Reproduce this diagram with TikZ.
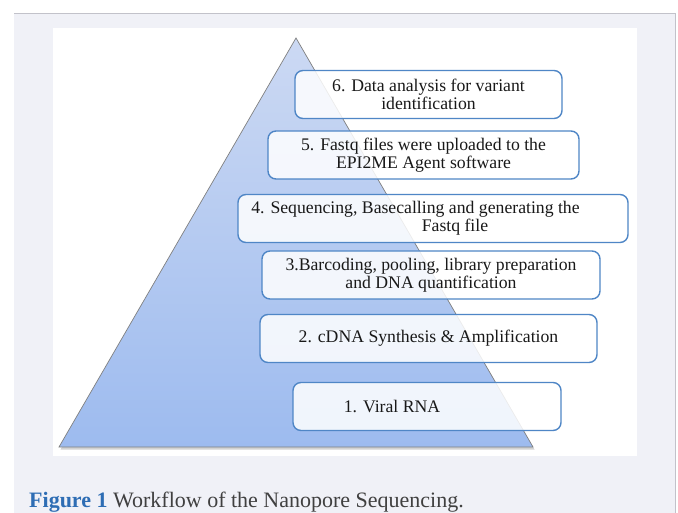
\documentclass[tikz,border=0pt]{standalone}
\usepackage{fontspec}
\setmainfont{Liberation Serif}
\usepackage{tikz}
\usetikzlibrary{shadows}

\definecolor{pagegrey}{HTML}{F0F1F7}
\definecolor{rulegrey}{HTML}{C2C2CA}
\definecolor{pyrtop}{HTML}{CCD9F3}
\definecolor{pyrbottom}{HTML}{9DBBEF}
\definecolor{boxblue}{HTML}{4F86C6}
\definecolor{capblue}{HTML}{2E6DB4}
\definecolor{captext}{HTML}{404040}

\tikzset{
  stepbox/.style={draw=boxblue, line width=1.4pt, rounded corners=8pt,
    fill=white, fill opacity=0.85, text opacity=1, text=black!90,
    align=center, inner sep=0pt, minimum height=48pt,
    font=\fontsize{17.7}{18}\selectfont},
}

\begin{document}
\begin{tikzpicture}[x=1pt, y=-1pt]
          \useasboundingbox (0, 0) rectangle (678, 513);
          \fill [pagegrey] (14, 13) rectangle (676, 513);
          \draw [rulegrey, line width=0.8pt] (14, 13.5) -- (675.5, 13.5) -- (675.5, 513);
          \fill [white] (53, 28) rectangle (637, 456);

          % Pyramid
          \shade [top color=pyrtop, bottom color=pyrbottom, draw=gray,
            line width=0.7pt,
            drop shadow={opacity=0.35, shadow xshift=1.5pt, shadow yshift=-2.5pt}]
            (296, 38) -- (533, 447) -- (59, 447) -- cycle;

          % Steps, bottom to top
          \node [stepbox, minimum width=268pt] (viral) at (427, 406.5)
            {\hspace*{-70pt}1. Viral RNA};
          \node [stepbox, minimum width=337pt] (cdna) at (428.5, 338.5)
            {2. cDNA Synthesis \& Amplification};
          \node [stepbox, minimum width=338pt] (barcode) at (431, 275)
            {3.Barcoding, pooling, library preparation\\and DNA quantification};
          \node [stepbox, minimum width=390pt] (seq) at (433, 218.5)
            {\hspace*{-35pt}4. Sequencing, Basecalling and generating the\\
             \hspace*{44pt}Fastq file};
          \node [stepbox, minimum width=311pt] (upload) at (423.5, 155)
            {5. Fastq files were uploaded to the\\EPI2ME Agent software};
          \node [stepbox, minimum width=267pt] (analysis) at (428.5, 94.5)
            {6. Data analysis for variant\\identification};

          % Caption
          \node [anchor=base west, inner sep=0pt, text=captext,
            font=\fontsize{22}{24}\selectfont] (caption) at (29, 507)
            {{\color{capblue}\bfseries Figure 1} Workflow of the Nanopore Sequencing.};
        \end{tikzpicture}
\end{document}
